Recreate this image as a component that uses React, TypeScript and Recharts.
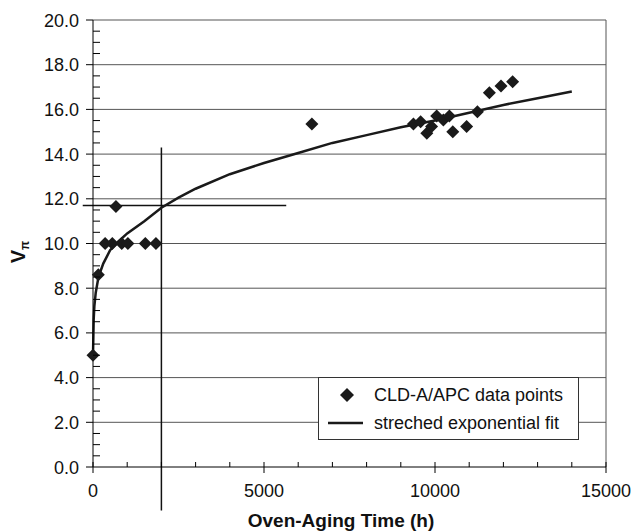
import React from 'react';
import { ComposedChart, Line, Scatter, XAxis, YAxis, ReferenceLine } from 'recharts';

// measured CLD-A/APC points
const agingHours = [0, 155, 355, 565, 670, 840, 1020, 1530, 1840, 6400, 9370, 9580, 9760, 9900, 10050, 10245, 10420, 10520, 10925, 11240, 11590, 11930, 12270];
const vpiValues = [5.0, 8.6, 10.0, 10.0, 11.65, 10.0, 10.0, 10.0, 10.0, 15.35, 15.35, 15.45, 14.93, 15.23, 15.7, 15.53, 15.7, 15.0, 15.23, 15.9, 16.75, 17.05, 17.24];

// stretched exponential fit
const fitHours = [0, 20, 40, 80, 160, 300, 500, 750, 1000, 1500, 2000, 2500, 3000, 4000, 5000, 6000, 7000, 8000, 9000, 10000, 11000, 12000, 13000, 14000];
const fitValues = [5.0, 6.6, 7.2, 7.8, 8.5, 9.1, 9.7, 10.1, 10.45, 11.0, 11.6, 12.05, 12.45, 13.1, 13.6, 14.05, 14.5, 14.85, 15.2, 15.5, 15.85, 16.2, 16.5, 16.8];

const xTicks = [0, 1000, 2000, 3000, 4000, 5000, 6000, 7000, 8000, 9000, 10000, 11000, 12000, 13000, 14000, 15000];
const xMajor = [0, 5000, 10000, 15000];
const yTicks = [0, 0.5, 1, 1.5, 2, 2.5, 3, 3.5, 4, 4.5, 5, 5.5, 6, 6.5, 7, 7.5, 8, 8.5, 9, 9.5, 10, 10.5, 11, 11.5, 12, 12.5, 13, 13.5, 14, 14.5, 15, 15.5, 16, 16.5, 17, 17.5, 18, 18.5, 19, 19.5, 20];
const yMajor = [0, 2, 4, 6, 8, 10, 12, 14, 16, 18, 20];
const gridValues = [2, 4, 6, 8, 10, 12, 14, 16, 18, 20];

// the 2000 h / 11.7 marker lines
const markerHour = 2000;
const markerVpi = 11.7;

const points = agingHours.map((x, i) => ({ x, y: vpiValues[i] }));
const fit = fitHours.map((x, i) => ({ x, y: fitValues[i] }));

const font = '"Liberation Sans", Arial, sans-serif';

const Diamond = (props: any) => {
  const { cx, cy } = props;
  const r = 6.5;
  return <polygon points={`${cx},${cy - r} ${cx + r},${cy} ${cx},${cy + r} ${cx - r},${cy}`} fill="#1a1a1a" />;
};

const XTick = (props: any) => {
  const { x, y, payload } = props;
  const major = xMajor.includes(payload.value);
  return (
    <g>
      <line x1={x} x2={x} y1={y - 5} y2={major ? y + 6 : y} stroke="#000" />
      {major && (
        <text x={x} y={y + 30} textAnchor="middle" fontSize={18} fontFamily={font} fill="#111">
          {payload.value}
        </text>
      )}
    </g>
  );
};

const YTick = (props: any) => {
  const { x, y, payload } = props;
  const major = yMajor.includes(payload.value);
  return (
    <g>
      <line x1={major ? x - 7 : x} x2={major ? x : x + 7} y1={y} y2={y} stroke="#000" />
      {major && (
        <text x={x - 14} y={y + 6.5} textAnchor="end" fontSize={18} fontFamily={font} fill="#111">
          {payload.value.toFixed(1)}
        </text>
      )}
    </g>
  );
};

export default function App() {
  return (
    <div style={{ position: 'absolute', left: 0, top: 0, width: 635, height: 532, background: '#fff' }}>
      <ComposedChart width={635} height={532} margin={{ top: 20, right: 29, bottom: 0, left: 0 }}>
        <XAxis type="number" dataKey="x" domain={[0, 15000]} ticks={xTicks} interval={0}
          tickLine={false} tickSize={0} tickMargin={0} height={65} axisLine={{ stroke: '#000' }} tick={XTick} />
        <YAxis type="number" dataKey="y" domain={[0, 20]} ticks={yTicks} interval={0}
          tickLine={false} tickSize={0} tickMargin={0} width={93} axisLine={{ stroke: '#000' }} tick={YTick} />
        {gridValues.map(v => (
          <ReferenceLine key={v} y={v} stroke="#555" strokeWidth={1} />
        ))}
        <ReferenceLine x={15000} stroke="#555" strokeWidth={1} />
        <ReferenceLine segment={[{ x: markerHour, y: -1.95 }, { x: markerHour, y: 14.3 }]} stroke="#111" strokeWidth={1.5} ifOverflow="visible" />
        <ReferenceLine segment={[{ x: -300, y: markerVpi }, { x: 5650, y: markerVpi }]} stroke="#111" strokeWidth={1.5} ifOverflow="visible" />
        <Line data={fit} dataKey="y" type="linear" stroke="#1a1a1a" strokeWidth={2.5} dot={false} isAnimationActive={false} />
        <Scatter data={points} dataKey="y" shape={Diamond} isAnimationActive={false} />
      </ComposedChart>
      <svg width={635} height={532} style={{ position: 'absolute', left: 0, top: 0, pointerEvents: 'none' }}>
        <text x={341} y={527} textAnchor="middle" fontSize={19} fontWeight="bold" fontFamily={font} fill="#111">
          Oven-Aging Time (h)
        </text>
        <text transform="translate(25,252) rotate(-90)" textAnchor="middle" fontSize={20} fontWeight="bold" fontFamily={font} fill="#111">
          V<tspan fontSize={12} dy={4}>π</tspan>
        </text>
        <rect x={318.5} y={377.5} width={260} height={62} fill="#fff" stroke="#333" strokeWidth={1} />
        <polygon points="347,388 354,395 347,402 340,395" fill="#1a1a1a" />
        <text x={374} y={401} fontSize={18} fontFamily={font} fill="#111">CLD-A/APC data points</text>
        <line x1={328} x2={363} y1={423} y2={423} stroke="#1a1a1a" strokeWidth={2.5} />
        <text x={374} y={429} fontSize={18} fontFamily={font} fill="#111">streched exponential fit</text>
      </svg>
    </div>
  );
}
